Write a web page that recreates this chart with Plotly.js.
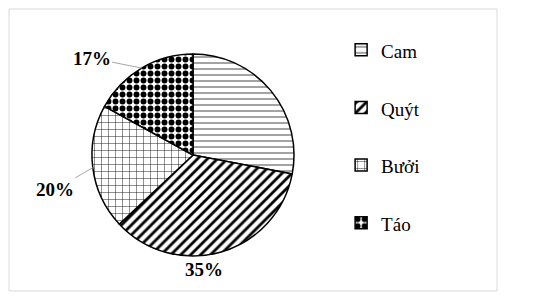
<!DOCTYPE html>
<html>
<head>
<meta charset="utf-8">
<script src="https://cdn.plot.ly/plotly-3.0.1.min.js"></script>
<style>
html,body{margin:0;padding:0;background:#fff;}
#chart{width:533px;height:297px;}
#chart text, #chart tspan { font-family: "Liberation Serif", "Times New Roman", serif !important; }
</style>
</head>
<body>
<div id="chart"></div>
<script>
// Data
const categories = ["Cam", "Quýt", "Bưởi", "Táo"];
const shares = [28, 35, 20, 17];
const showLabel = [false, true, true, true];
const patternShapes = ["-", "/", "+", "."];

const W = 533, H = 297;
const cx = 193, cy = 155, R = 101;
const SERIF = "Times New Roman";

const legendLabels = categories.map(c => '<span style="font-size:19px">' + c + '</span><br> ');

const trace = {
  type: "pie",
  values: shares,
  labels: legendLabels,
  sort: false,
  direction: "clockwise",
  rotation: 0,
  textinfo: "none",
  hoverinfo: "none",
  domain: { x: [(cx - R) / W, (cx + R) / W], y: [(H - cy - R) / H, (H - cy + R) / H] },
  marker: {
    colors: ["#ffffff", "#ffffff", "#ffffff", "#ffffff"],
    line: { color: "#000000", width: 1.5 },
    pattern: {
      shape: patternShapes,
      fgcolor: "#000000",
      bgcolor: "#ffffff",
      size: [6, 7, 7, 7],
      solidity: [0.12, 0.4, 0.12, 0.55]
    }
  }
};

// label annotations computed from the slice mid-angles
const total = shares.reduce((a, b) => a + b, 0);
const offsets = [[0, 0], [-17, 18], [-38, 22], [-50, -10]];
const annotations = [];
let cum = 0;
shares.forEach((v, i) => {
  const mid = (cum + v / 2) / total * 2 * Math.PI;
  cum += v;
  if (!showLabel[i]) return;
  const px = cx + R * Math.sin(mid);
  const py = cy - R * Math.cos(mid);
  const leader = Math.abs(offsets[i][0]) > 20;
  annotations.push({
    x: px / W, y: 1 - py / H, xref: "paper", yref: "paper",
    text: "<b>" + Math.round(v / total * 100) + "%</b>",
    showarrow: true,
    arrowhead: 0, arrowwidth: 1,
    arrowcolor: leader ? "#a6a6a6" : "rgba(0,0,0,0)",
    ax: offsets[i][0], ay: offsets[i][1],
    font: { family: SERIF, size: 19, color: "#000000" }
  });
});

const layout = {
  width: W, height: H,
  margin: { l: 0, r: 0, t: 0, b: 0 },
  paper_bgcolor: "#ffffff",
  showlegend: true,
  legend: {
    x: 0.64, xanchor: "left", y: 0.9, yanchor: "top",
    valign: "top",
    font: { family: SERIF, size: 21, color: "#000000" },
    bgcolor: "rgba(0,0,0,0)"
  },
  annotations: annotations,
  shapes: [{
    type: "rect", xref: "paper", yref: "paper",
    x0: 9 / W, x1: 497 / W, y0: 1 - 291 / H, y1: 1 - 9 / H,
    line: { color: "#d9d9d9", width: 1 }
  }]
};

Plotly.newPlot("chart", [trace], layout, { staticPlot: true });
</script>
</body>
</html>
